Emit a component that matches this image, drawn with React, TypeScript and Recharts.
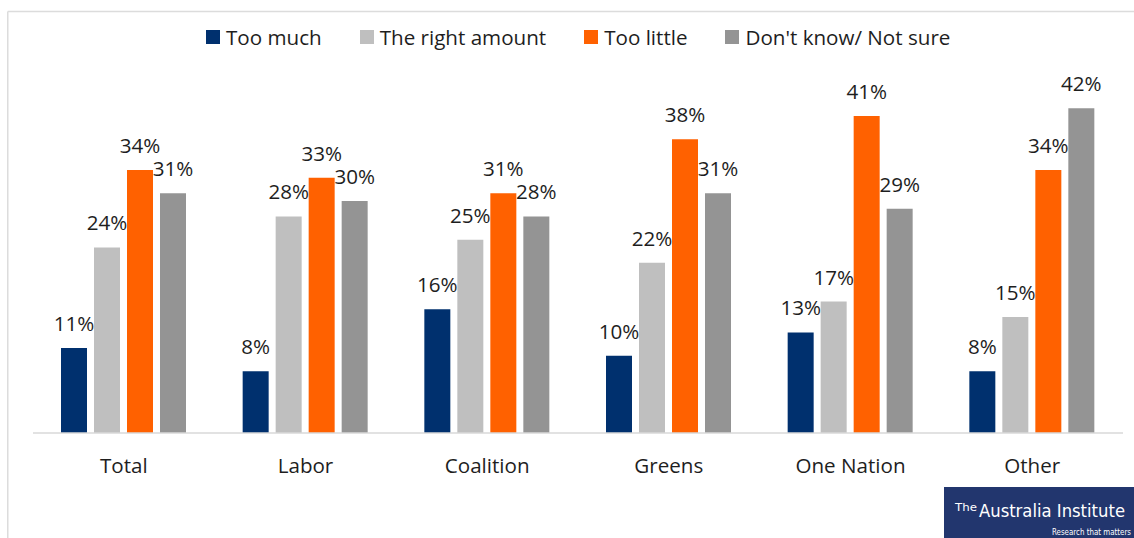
import React from "react";
import { BarChart, Bar, XAxis, YAxis, Legend, LabelList } from "recharts";

const categories = ["Total", "Labor", "Coalition", "Greens", "One Nation", "Other"];
const tooMuch = [11, 8, 16, 10, 13, 8];
const rightAmount = [24, 28, 25, 22, 17, 15];
const tooLittle = [34, 33, 31, 38, 41, 34];
const dontKnow = [31, 30, 28, 31, 29, 42];

const seriesKeys = ["tooMuch", "rightAmount", "tooLittle", "dontKnow"];
const seriesNames = ["Too much", "The right amount", "Too little", "Don't know/ Not sure"];
const seriesColors = ["#00306e", "#bfbfbf", "#ff6100", "#949494"];
const seriesValues = [tooMuch, rightAmount, tooLittle, dontKnow];

const data = categories.map((c, i) => {
  const row: Record<string, any> = { category: c };
  seriesKeys.forEach((k, j) => {
    row[k] = seriesValues[j][i];
  });
  return row;
});

const FONT = "'Open Sans', sans-serif";
const TEXT = "#1e1e1e";
const LEGEND_H = 28;
const LOGO_FONT = "'DejaVu Sans Condensed', 'Liberation Sans Narrow', sans-serif";

const LegendContent = () => (
  <div
    style={{
      display: "flex",
      alignItems: "center",
      paddingLeft: 206,
      gap: 38,
      fontFamily: FONT,
      fontSize: 20.6,
      color: TEXT,
      lineHeight: `${LEGEND_H}px`,
      height: LEGEND_H,
    }}
  >
    {seriesNames.map((n, i) => (
      <div key={n} style={{ display: "flex", alignItems: "center" }}>
        <span
          style={{
            display: "inline-block",
            width: 14,
            height: 14,
            background: seriesColors[i],
            marginRight: 6,
          }}
        />
        <span style={{ whiteSpace: "nowrap" }}>{n}</span>
      </div>
    ))}
  </div>
);

export default function App() {
  return (
    <div
      style={{
        position: "absolute",
        left: 0,
        top: 0,
        width: 1134,
        height: 538,
        background: "#fff",
        overflow: "hidden",
      }}
    >
      <svg
        width={1134}
        height={538}
        style={{ position: "absolute", left: 0, top: 0 }}
      >
        <line x1={7.75} y1={11.5} x2={1134} y2={11.5} stroke="#dcdcdc" strokeWidth={1.5} />
        <line x1={7.75} y1={11.5} x2={7.75} y2={538} stroke="#dcdcdc" strokeWidth={1.5} />
      </svg>
      <div style={{ position: "absolute", left: 0, top: 0 }}>
        <BarChart
          width={1134}
          height={538}
          data={data}
          margin={{ top: 85 - LEGEND_H, right: 11, bottom: 75, left: 33 }}
          barSize={26}
          barGap={7}
          style={{ fontFamily: FONT }}
        >
          <XAxis
            dataKey="category"
            interval={0}
            tickLine={false}
            tickSize={0}
            tickMargin={25}
            height={30}
            axisLine={{ stroke: "#d9d9d9", strokeWidth: 1.5 }}
            tick={{ fill: TEXT, fontSize: 20.6, fontFamily: FONT }}
          />
          <YAxis hide domain={[0, 45]} />
          <Legend
            verticalAlign="top"
            height={LEGEND_H}
            content={<LegendContent />}
            wrapperStyle={{ position: "absolute", left: 0, top: 23, width: 1134, height: LEGEND_H }}
          />
          {seriesKeys.map((k, i) => (
            <Bar
              key={k}
              dataKey={k}
              name={seriesNames[i]}
              fill={seriesColors[i]}
              isAnimationActive={false}
            >
              <LabelList
                dataKey={k}
                position="top"
                offset={17}
                formatter={(v: any) => `${v}%`}
                style={{ fill: TEXT, fontSize: 20.6, fontFamily: FONT }}
              />
            </Bar>
          ))}
        </BarChart>
      </div>
      <div
        style={{
          position: "absolute",
          left: 944,
          top: 487,
          width: 190,
          height: 51,
          background: "#22366e",
        }}
      >
        <svg width={190} height={51}>
          <text
            x={11}
            y={23.5}
            fill="#fff"
            fontSize={11}
            fontFamily={LOGO_FONT}
            textLength={22}
            lengthAdjust="spacingAndGlyphs"
          >
            The
          </text>
          <text
            x={35}
            y={29.7}
            fill="#fff"
            fontSize={17.5}
            fontWeight={500}
            fontFamily={LOGO_FONT}
            textLength={146}
            lengthAdjust="spacingAndGlyphs"
          >
            Australia Institute
          </text>
          <text
            x={108}
            y={48}
            fill="#fff"
            fontSize={8}
            fontFamily={LOGO_FONT}
            textLength={79}
            lengthAdjust="spacingAndGlyphs"
          >
            Research that matters
          </text>
        </svg>
      </div>
    </div>
  );
}
